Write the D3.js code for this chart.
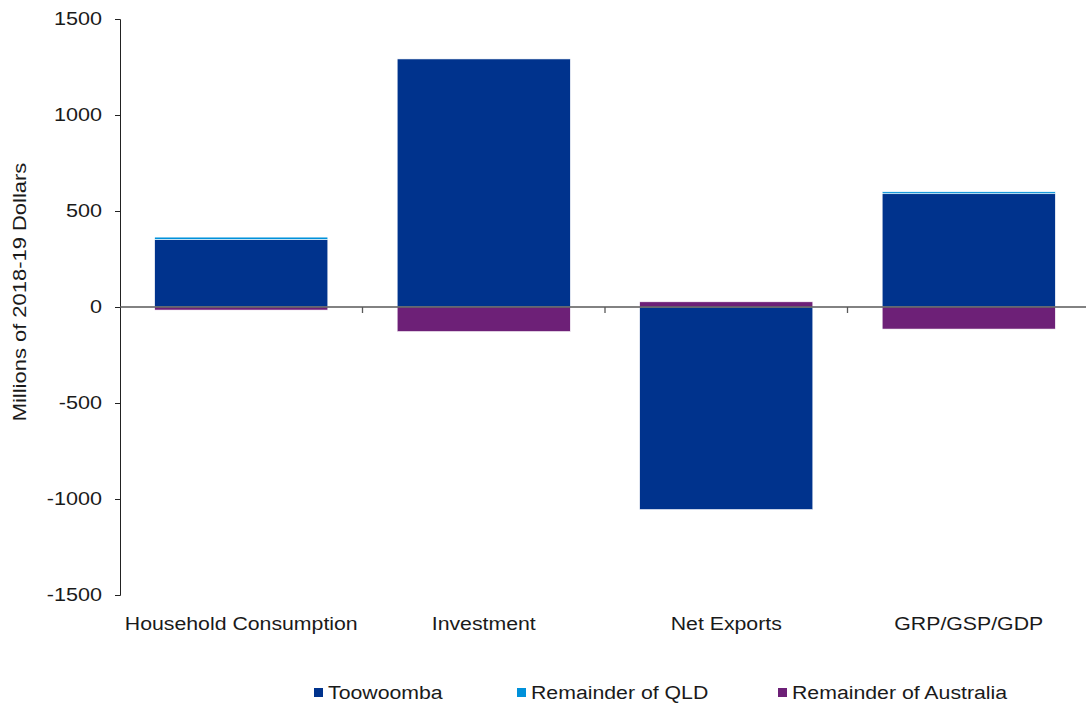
<!DOCTYPE html>
<html><head><meta charset="utf-8">
<script src="https://cdn.jsdelivr.net/npm/d3@7"></script>
<style>body{margin:0;background:#fff;} svg{display:block;} text{font-family:"Liberation Sans",Arial,sans-serif;fill:#1a1a1a;}</style>
</head><body>
<svg id="chart" width="1086" height="709"></svg>
<script>
const categories = ["Household Consumption", "Investment", "Net Exports", "GRP/GSP/GDP"];
const seriesNames = ["Toowoomba", "Remainder of QLD", "Remainder of Australia"];
const toowoomba = [352, 1292, -1055, 590];
const remainderQLD = [12, 0, 0, 10];
const remainderAustralia = [-16, -128, 27, -115];
const yTicks = [1500, 1000, 500, 0, -500, -1000, -1500];
const colors = ["#00338D", "#0091DA", "#6D2077"];

(function () {
const svg = d3.select("#chart");
const pl = 120, pr = 1090, pt = 19, pb = 595;
const SX = 1.12;

const rows = categories.map((c, i) => ({cat: c, "Toowoomba": toowoomba[i], "Remainder of QLD": remainderQLD[i], "Remainder of Australia": remainderAustralia[i]}));
const stacked = d3.stack().keys(seriesNames).offset(d3.stackOffsetDiverging)(rows);

const x = d3.scaleBand().domain(categories).range([pl, pr]).paddingInner(0.286).paddingOuter(0.143);
const y = d3.scaleLinear().domain([-1500, 1500]).range([pb, pt]);

// bars
svg.append("g").selectAll("g").data(stacked).join("g")
  .attr("fill", (d, i) => colors[i])
  .selectAll("rect").data(d => d).join("rect")
  .attr("x", d => x(d.data.cat))
  .attr("width", x.bandwidth())
  .attr("y", d => y(Math.max(d[0], d[1])))
  .attr("height", d => Math.abs(y(d[0]) - y(d[1])))
  .attr("stroke", "#ffffff").attr("stroke-width", 0.6);

// y axis
const yAxis = svg.append("g").attr("transform", `translate(${pl},0)`)
  .call(d3.axisLeft(y).tickValues(yTicks).tickSize(5).tickPadding(13).tickFormat(d => String(d)));
yAxis.select(".domain").attr("stroke", "#222").attr("stroke-width", 1);
yAxis.selectAll(".tick line").attr("stroke", "#222");
const TSX = 1.2;
yAxis.selectAll(".tick text")
  .style("font-size", "18px").attr("fill", "#1a1a1a")
  .attr("x", -18 / TSX).attr("transform", `scale(${TSX},1)`);

// x axis line at zero with ticks at band boundaries
const step = x.step();
const boundaries = d3.range(1, categories.length).map(i => pl + i * step);
const xg = svg.append("g");
xg.append("line").attr("x1", pl).attr("x2", 1086).attr("y1", y(0)).attr("y2", y(0))
  .attr("stroke", "#595959").attr("stroke-width", 1.3);
xg.selectAll("line.tk").data(boundaries).join("line").attr("class", "tk")
  .attr("x1", d => d).attr("x2", d => d).attr("y1", y(0)).attr("y2", y(0) + 6)
  .attr("stroke", "#595959").attr("stroke-width", 1.3);

// category labels
svg.append("g").selectAll("text").data(categories).join("text")
  .attr("transform", d => `translate(${x(d) + x.bandwidth() / 2},630) scale(${SX},1)`)
  .attr("text-anchor", "middle")
  .style("font-size", "19px")
  .text(d => d);

// y title
svg.append("text")
  .attr("transform", `translate(26,292) rotate(-90) scale(1.22,1)`)
  .attr("text-anchor", "middle")
  .style("font-size", "18px")
  .text("Millions of 2018-19 Dollars");

// legend
const legendX = [314, 517, 778];
const lg = svg.append("g").selectAll("g").data(seriesNames).join("g")
  .attr("transform", (d, i) => `translate(${legendX[i]},688)`);
lg.append("rect").attr("width", 9).attr("height", 9).attr("y", 0).attr("fill", (d, i) => colors[i]);
lg.append("text").attr("transform", `translate(14,11) scale(${SX},1)`).style("font-size", "19px").text(d => d);
})();
</script>
</body></html>
